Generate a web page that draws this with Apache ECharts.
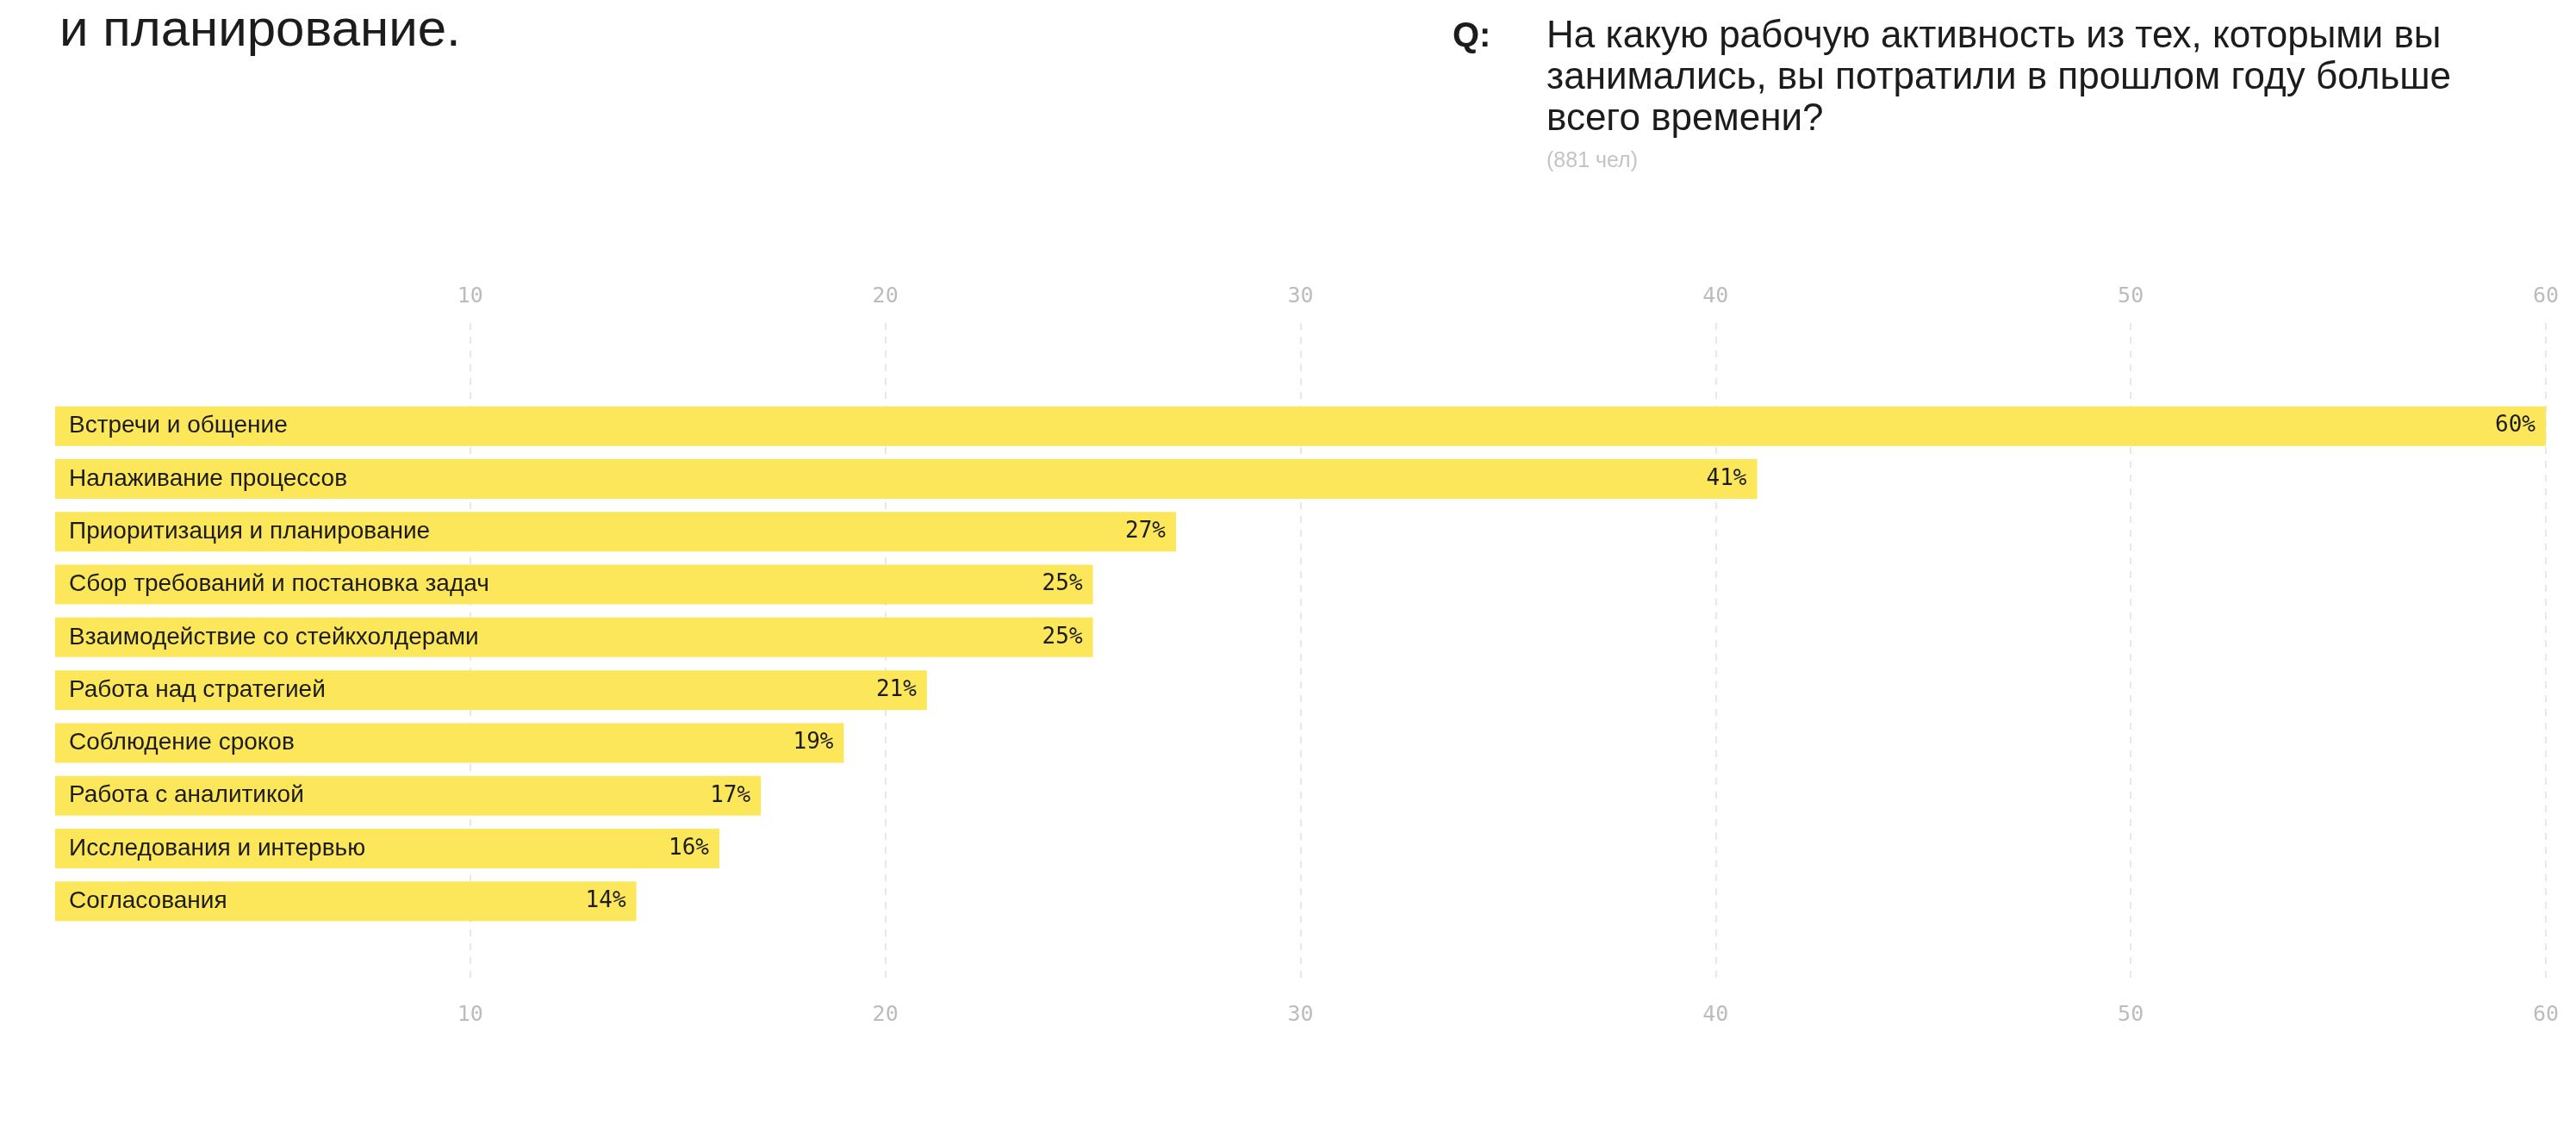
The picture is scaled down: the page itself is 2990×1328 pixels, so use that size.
<!DOCTYPE html>
<html>
<head>
<meta charset="utf-8">
<script src="https://cdn.jsdelivr.net/npm/echarts@6/dist/echarts.min.js"></script>
<style>
html,body{margin:0;padding:0;background:#fff;}
#chart{width:2990px;height:1328px;}
</style>
</head>
<body>
<div id="chart"></div>
<script>
const categories = [
  "Встречи и общение",
  "Налаживание процессов",
  "Приоритизация и планирование",
  "Сбор требований и постановка задач",
  "Взаимодействие со стейкхолдерами",
  "Работа над стратегией",
  "Соблюдение сроков",
  "Работа с аналитикой",
  "Исследования и интервью",
  "Согласования"
];
const values = [60, 41, 27, 25, 25, 21, 19, 17, 16, 14];
const axisTicks = [0, 10, 20, 30, 40, 50, 60];

const titleLeft = "и планирование.";
const questionText = "На какую рабочую активность из тех, которыми вы\nзанимались, вы потратили в прошлом году больше\nвсего времени?";
const sampleText = "(881 чел)";

const sans = "'Liberation Sans', Arial, sans-serif";
const mono = "'DejaVu Sans Mono', monospace";
const yellow = "#FCE65A";

const chart = echarts.init(document.getElementById('chart'));
const gridColors = axisTicks.map((t, i) => i === 0 ? 'rgba(0,0,0,0)' : '#e8e8e8');

chart.setOption({
  backgroundColor: '#fff',
  animation: false,
  title: [
    { text: titleLeft, left: 64, top: 1, textStyle: { fontFamily: sans, fontSize: 60, fontWeight: 'normal', color: '#1c1c1c' } },
    { text: 'Q:', left: 1681, top: 18, textStyle: { fontFamily: sans, fontSize: 40, fontWeight: 'bold', color: '#1c1c1c' } },
    { text: questionText, left: 1790, top: 14, textStyle: { fontFamily: sans, fontSize: 44, fontWeight: 'normal', color: '#1c1c1c', lineHeight: 48 } },
    { text: sampleText, left: 1790, top: 170, textStyle: { fontFamily: sans, fontSize: 25, fontWeight: 'normal', color: '#c4c4c4' } }
  ],
  grid: [
    { left: 64, right: 35, top: 464, bottom: 251 },
    { left: 64, right: 35, top: 375, bottom: 188 }
  ],
  xAxis: [
    { gridIndex: 0, type: 'value', min: 0, max: 60, show: false },
    { gridIndex: 1, type: 'value', min: 0, max: 60, interval: 10, position: 'top',
      axisLine: { show: false }, axisTick: { show: false },
      axisLabel: { margin: 18, fontFamily: mono, fontSize: 25, color: '#bcbcbc', formatter: v => v === 0 ? '' : String(v) },
      splitLine: { show: true, lineStyle: { color: gridColors, width: 2, type: [8, 8] } } },
    { gridIndex: 1, type: 'value', min: 0, max: 60, interval: 10, position: 'bottom',
      axisLine: { show: false }, axisTick: { show: false },
      axisLabel: { margin: 26, fontFamily: mono, fontSize: 25, color: '#bcbcbc', formatter: v => v === 0 ? '' : String(v) },
      splitLine: { show: false } }
  ],
  yAxis: [
    { gridIndex: 0, type: 'category', data: categories, inverse: true, show: false },
    { gridIndex: 1, type: 'category', data: [''], show: false }
  ],
  series: [
    { type: 'bar', xAxisIndex: 0, yAxisIndex: 0, data: values, barCategoryGap: '25%', barGap: '-100%',
      itemStyle: { color: yellow },
      label: { show: true, position: 'insideLeft', distance: 16, formatter: p => categories[p.dataIndex],
        fontFamily: sans, fontSize: 28, color: '#1c1c1c' } },
    { type: 'bar', xAxisIndex: 0, yAxisIndex: 0, data: values, barCategoryGap: '25%', barGap: '-100%',
      itemStyle: { color: 'rgba(0,0,0,0)' },
      label: { show: true, position: 'insideRight', distance: 12, formatter: p => p.value + '%',
        fontFamily: mono, fontSize: 26, color: '#1c1c1c' } }
  ]
});
</script>
</body>
</html>
